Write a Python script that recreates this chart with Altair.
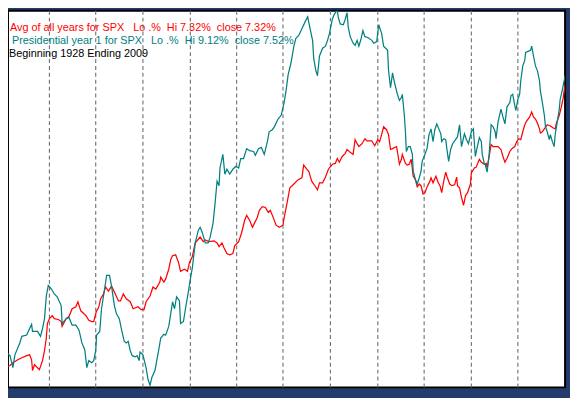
import altair as alt
import pandas as pd

# Trading day of year (0..252) and cumulative % change, Presidential year 1 (teal)
teal_days = [0.0,0.9,1.8,2.7,4.0,4.9,7.1,8.0,10.2,11.5,
             12.4,12.8,15.1,16.4,17.3,18.2,19.0,19.9,21.3,22.6,
             23.9,25.7,26.1,27.9,29.2,30.6,32.3,33.7,35.0,36.3,
             37.2,38.1,39.4,40.3,41.2,41.6,43.0,43.8,45.2,46.1,
             47.4,48.3,49.6,50.5,51.8,52.7,54.0,54.9,55.8,56.7,
             57.6,58.9,59.8,60.7,61.1,62.4,63.8,64.7,65.6,66.4,
             67.8,68.6,69.5,70.4,71.8,72.6,74.0,74.9,75.7,76.6,
             77.5,78.8,79.3,80.6,81.5,82.8,83.7,84.6,85.9,87.3,
             88.1,89.0,90.4,91.7,92.6,93.9,94.8,95.7,96.6,97.0,
             97.9,98.3,99.2,100.1,101.4,102.8,104.1,105.4,106.3,107.6,
             109.0,110.3,112.1,112.9,114.3,115.6,116.9,118.3,119.1,120.5,
             121.4,123.1,124.5,125.8,126.7,127.6,128.9,130.2,131.1,132.4,
             134.2,135.5,136.4,137.3,138.6,139.1,140.0,140.8,141.7,143.1,
             144.4,145.3,146.2,147.5,148.4,149.7,150.1,151.0,152.4,153.2,
             154.1,154.6,155.5,156.8,157.7,158.6,159.4,160.3,161.2,162.1,
             163.4,165.2,166.1,167.4,168.3,169.6,170.5,172.3,172.7,173.6,
             174.1,174.5,175.4,176.7,177.6,178.5,178.9,179.8,180.3,180.7,
             181.6,182.5,183.4,183.8,184.7,185.6,186.5,187.3,187.8,188.7,
             190.0,190.9,191.8,192.7,193.5,194.4,195.3,196.2,196.6,197.5,
             198.4,198.9,199.7,200.6,201.5,202.8,203.7,204.6,205.5,206.8,
             207.7,208.6,209.9,210.8,211.7,212.6,213.5,214.4,214.8,215.7,
             216.1,217.0,217.9,218.8,219.7,220.6,221.0,221.9,223.2,224.1,
             225.0,225.9,227.2,227.7,228.5,229.4,229.9,230.8,231.6,232.1,
             233.0,233.9,234.3,235.6,236.5,237.0,237.8,238.7,239.6,240.5,
             240.9,241.8,242.7,243.2,244.0,244.9,245.4,246.3,247.1,247.6,
             248.5,249.4,249.8,250.7,251.6,252.0]
teal_vals = [0.12,0.84,0.76,0.72,0.43,0.74,1.03,1.19,1.22,1.38,
             1.48,1.31,1.31,1.19,1.38,1.62,2.17,2.43,2.34,2.22,
             2.15,1.93,1.50,1.62,1.65,1.46,1.46,1.34,1.03,0.86,
             0.43,0.60,0.55,0.60,0.84,1.22,1.31,1.86,2.34,2.67,
             2.67,2.41,1.93,1.74,1.62,1.38,1.07,1.03,1.07,0.84,
             0.72,0.69,0.72,0.60,0.81,0.74,0.43,0.14,0.00,0.19,
             0.36,0.60,0.86,1.15,1.24,1.22,1.43,1.74,2.03,1.86,
             2.15,2.05,1.50,1.55,1.86,2.27,2.58,2.86,3.46,3.77,
             3.84,3.72,3.46,3.46,3.60,3.94,4.42,4.96,4.85,5.28,
             5.51,5.61,5.13,5.25,5.13,5.25,5.32,5.28,5.51,5.51,
             5.75,5.70,5.68,5.59,5.75,5.78,5.61,5.92,6.16,6.21,
             6.28,6.47,6.56,6.87,7.16,7.54,7.83,8.24,8.43,8.50,
             8.71,8.86,8.95,8.71,8.38,7.95,7.66,7.52,8.00,8.19,
             8.24,8.38,8.55,8.90,9.02,9.12,8.95,8.78,8.76,8.88,
             9.05,8.71,8.47,8.31,8.26,8.38,8.24,8.40,8.62,8.47,
             8.45,8.38,8.31,8.35,8.76,8.55,8.24,8.14,7.66,7.23,
             7.42,7.59,7.35,7.07,6.92,6.99,7.07,6.56,6.16,5.68,
             5.80,5.80,5.61,5.20,5.01,4.89,5.04,5.20,5.44,5.56,
             5.75,6.09,6.23,5.92,6.21,6.35,6.23,6.11,5.92,5.99,
             5.97,5.75,5.44,5.73,5.87,5.97,6.04,6.33,5.80,6.11,
             5.97,5.87,6.16,6.23,5.56,5.80,6.02,5.92,5.61,5.39,
             5.37,5.18,5.61,6.33,6.28,6.16,5.99,6.40,6.71,6.52,
             6.35,6.76,6.87,7.04,7.07,6.80,6.68,6.95,7.07,7.40,
             7.76,7.90,8.09,8.12,8.14,8.24,8.00,7.76,7.64,7.40,
             7.16,6.87,6.56,6.28,6.16,5.97,6.09,5.92,5.80,6.11,
             6.40,6.71,6.95,7.16,7.40,7.52]

# Average of all years (red)
red_days = [0.0,0.9,2.7,4.0,6.2,8.0,10.2,11.5,12.4,12.8,
            13.7,14.6,15.9,17.3,18.2,19.0,19.5,20.4,21.7,22.6,
            24.4,25.7,26.1,27.9,29.2,30.6,32.3,33.2,34.5,35.9,
            36.8,38.1,39.4,40.3,41.2,41.6,42.5,43.4,44.7,45.6,
            46.9,48.3,50.0,51.4,52.3,53.6,54.9,56.7,58.0,60.2,
            61.6,62.9,63.8,65.6,66.9,68.2,70.0,70.4,71.8,72.6,
            74.0,74.9,75.7,77.1,78.4,79.3,81.1,82.4,83.3,84.6,
            85.9,88.1,89.5,90.4,92.1,94.3,95.7,96.6,97.9,98.8,
            100.1,101.4,102.8,103.6,105.4,106.7,108.1,109.0,110.3,111.6,
            112.5,113.8,114.7,116.0,117.4,118.7,119.6,120.9,122.2,123.6,
            125.3,125.8,127.1,128.4,130.2,132.0,133.8,134.6,136.0,136.9,
            138.2,139.1,140.8,141.7,143.1,144.4,145.7,147.5,148.8,149.7,
            150.6,151.9,153.2,154.1,155.5,156.8,157.7,158.6,159.4,160.8,
            162.1,163.0,165.2,166.5,167.9,168.7,169.6,170.5,171.8,172.7,
            173.6,174.5,176.3,176.7,177.6,178.5,178.9,180.3,181.1,182.0,
            182.9,183.8,184.7,185.6,186.5,187.3,188.2,189.1,190.0,191.3,
            191.8,192.7,194.0,194.9,195.8,196.6,197.5,198.4,198.9,200.2,
            201.1,202.4,203.3,203.7,204.6,205.5,206.4,207.3,208.2,209.5,
            209.9,211.3,212.1,213.5,214.4,215.7,216.6,217.0,217.9,218.8,
            219.7,221.9,223.2,224.1,225.0,225.9,227.2,228.1,229.4,230.3,
            231.2,232.1,233.0,233.9,234.7,236.1,237.0,237.8,238.7,239.6,
            240.5,240.9,241.8,242.7,244.0,245.4,246.7,247.6,248.0,249.4,
            250.3,251.2,251.6,252.0]
red_vals = [0.07,0.45,0.48,0.55,0.62,0.67,0.72,0.74,0.62,0.36,
            0.50,0.45,0.38,0.60,0.84,1.15,1.50,1.62,1.69,1.62,
            1.60,1.55,1.43,1.62,1.67,1.86,1.91,2.03,1.81,1.74,
            1.69,1.58,1.55,1.55,1.74,1.81,1.89,2.10,2.22,2.39,
            2.29,2.41,2.22,2.05,2.05,2.22,2.10,2.03,1.86,1.91,
            1.84,1.84,2.03,2.17,2.39,2.34,2.51,2.63,2.51,2.58,
            2.82,3.06,3.15,3.17,2.98,2.77,2.82,2.77,2.98,3.13,
            3.46,3.60,3.49,3.53,3.49,3.51,3.46,3.37,3.46,3.34,
            3.20,3.17,3.20,3.39,3.49,3.70,4.01,4.13,4.01,3.84,
            3.94,4.08,4.25,4.34,4.32,4.20,4.25,4.08,3.89,3.84,
            3.89,4.06,4.42,4.80,4.89,4.99,5.04,5.35,5.25,5.20,
            4.96,4.89,4.75,4.92,4.92,5.06,5.25,5.37,5.39,5.51,
            5.42,5.56,5.63,5.73,5.66,5.61,5.97,5.87,5.80,5.87,
            5.99,5.94,5.94,5.82,5.97,5.92,6.09,6.28,6.21,6.09,
            5.73,5.75,5.80,5.68,5.37,5.49,5.61,5.39,5.35,5.37,
            5.49,5.08,5.01,4.82,4.89,4.85,4.65,4.68,4.82,4.96,
            5.04,4.92,5.08,4.94,4.85,4.68,4.96,5.18,5.08,4.89,
            4.85,4.87,5.06,4.85,4.80,4.56,4.37,4.61,4.68,4.89,
            5.16,5.28,5.30,5.49,5.42,5.37,5.39,5.28,5.56,5.85,
            5.80,5.80,5.73,5.56,5.42,5.51,5.68,5.75,5.80,5.92,
            5.99,5.97,6.16,6.33,6.42,6.52,6.64,6.52,6.47,6.37,
            6.23,6.13,6.16,6.23,6.33,6.30,6.25,6.23,6.35,6.56,
            6.76,6.99,7.16,7.32]

# month boundaries (trading days)
month_marks = [20.4, 41.2, 62.4, 83.7, 104.5, 125.3, 146.6, 167.9, 188.7, 209.9, 230.8]

NB = "\u00a0"
line_avg = f"Avg of all years for SPX{NB*3}Lo .%{NB*2}Hi 7.32%{NB*2}close 7.32%"
line_pres = f"Presidential year 1 for SPX{NB*3}Lo .%{NB*2}Hi 9.12%{NB*2}close 7.52%"
line_span = f"Beginning{NB}1928{NB}Ending{NB}2009"


def frame(days, vals, name):
    if len(days) != len(vals):
        raise ValueError(f"{name}: {len(days)} days vs {len(vals)} values")
    return pd.DataFrame({"day": days, "pct": vals, "i": list(range(len(days)))})


red_df = frame(red_days, red_vals, "red")
teal_df = frame(teal_days, teal_vals, "teal")

xs = alt.Scale(domain=[1.8, 252], nice=False, zero=False)
ys = alt.Scale(domain=[-0.05, 9.1], nice=False, zero=False)

grid = alt.Chart(pd.DataFrame({"day": month_marks})).mark_rule(
    color="#6e6e6e", strokeDash=[4, 3], strokeWidth=1.1
).encode(x=alt.X("day:Q", scale=xs, axis=None))

red = alt.Chart(red_df).mark_line(color="#ff0000", strokeWidth=1.25, clip=True).encode(
    x=alt.X("day:Q", scale=xs, axis=None),
    y=alt.Y("pct:Q", scale=ys, axis=None),
    order="i:Q",
)
teal = alt.Chart(teal_df).mark_line(color="#008080", strokeWidth=1.25, clip=True).encode(
    x=alt.X("day:Q", scale=xs, axis=None),
    y=alt.Y("pct:Q", scale=ys, axis=None),
    order="i:Q",
)


def label(txt, color, x, y):
    return alt.Chart(pd.DataFrame({"t": [txt]})).mark_text(
        align="left", baseline="alphabetic", font="Liberation Sans",
        fontSize=11, color=color
    ).encode(x=alt.value(x), y=alt.value(y), text="t:N")


texts = label(line_avg, "#ff0000", 2, 21) + label(line_pres, "#008080", 4, 34) + label(line_span, "#000000", 1, 47)

chart = alt.layer(grid, red, teal, texts).properties(
    width=565,
    height=382,
    autosize="none",
    padding={"left": 0, "top": 0, "right": 5, "bottom": 8},
    background="#233c6b",
).configure_view(stroke="#000000", strokeWidth=2, fill="#ffffff")

chart.save("out.html", embed_options={"renderer": "svg", "actions": False})
